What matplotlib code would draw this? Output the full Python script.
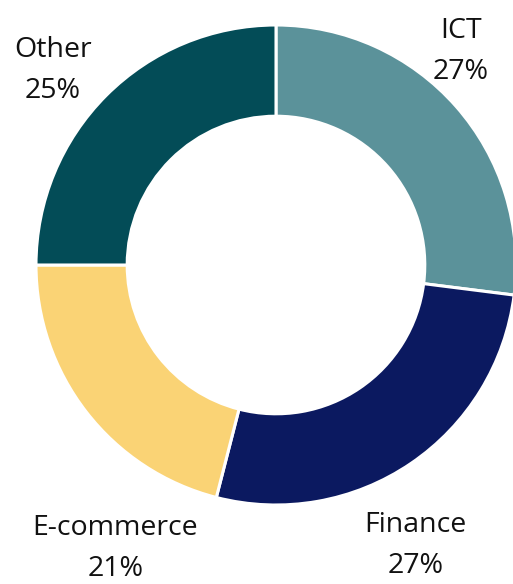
import matplotlib.pyplot as plt

# Sector shares (%)
sectors = ["ICT", "Finance", "E-commerce", "Other"]
shares = [27, 27, 21, 25]
colors = ["#5b929a", "#0b1960", "#fad375", "#034c57"]

plt.rcParams["font.family"] = ["Open Sans", "DejaVu Sans"]

fig = plt.figure(figsize=(5.13, 5.84), dpi=100)
ax = fig.add_axes([36 / 513, 79 / 584, 480 / 513, 480 / 584])

wedges, _ = ax.pie(
    shares,
    colors=colors,
    startangle=90,
    counterclock=False,
    radius=1.0,
    wedgeprops=dict(width=0.38, edgecolor="white", linewidth=2.2),
)
for w in wedges:
    w.set_clip_on(False)

# label positions (data coords around the donut)
label_pos = {
    "ICT": (0.77, 0.89),
    "Finance": (0.58, -1.168),
    "E-commerce": (-0.67, -1.182),
    "Other": (-0.93, 0.81),
}
for name, val in zip(sectors, shares):
    x, y = label_pos[name]
    ax.text(x, y, f"{name}\n{val}%", ha="center", va="center",
            fontsize=20.5, color="#111111", linespacing=1.6,
            multialignment="center", clip_on=False)

ax.set_xlim(-1, 1)
ax.set_ylim(-1, 1)
ax.set_aspect("equal")
ax.axis("off")

fig.savefig("out.png", dpi=100)
